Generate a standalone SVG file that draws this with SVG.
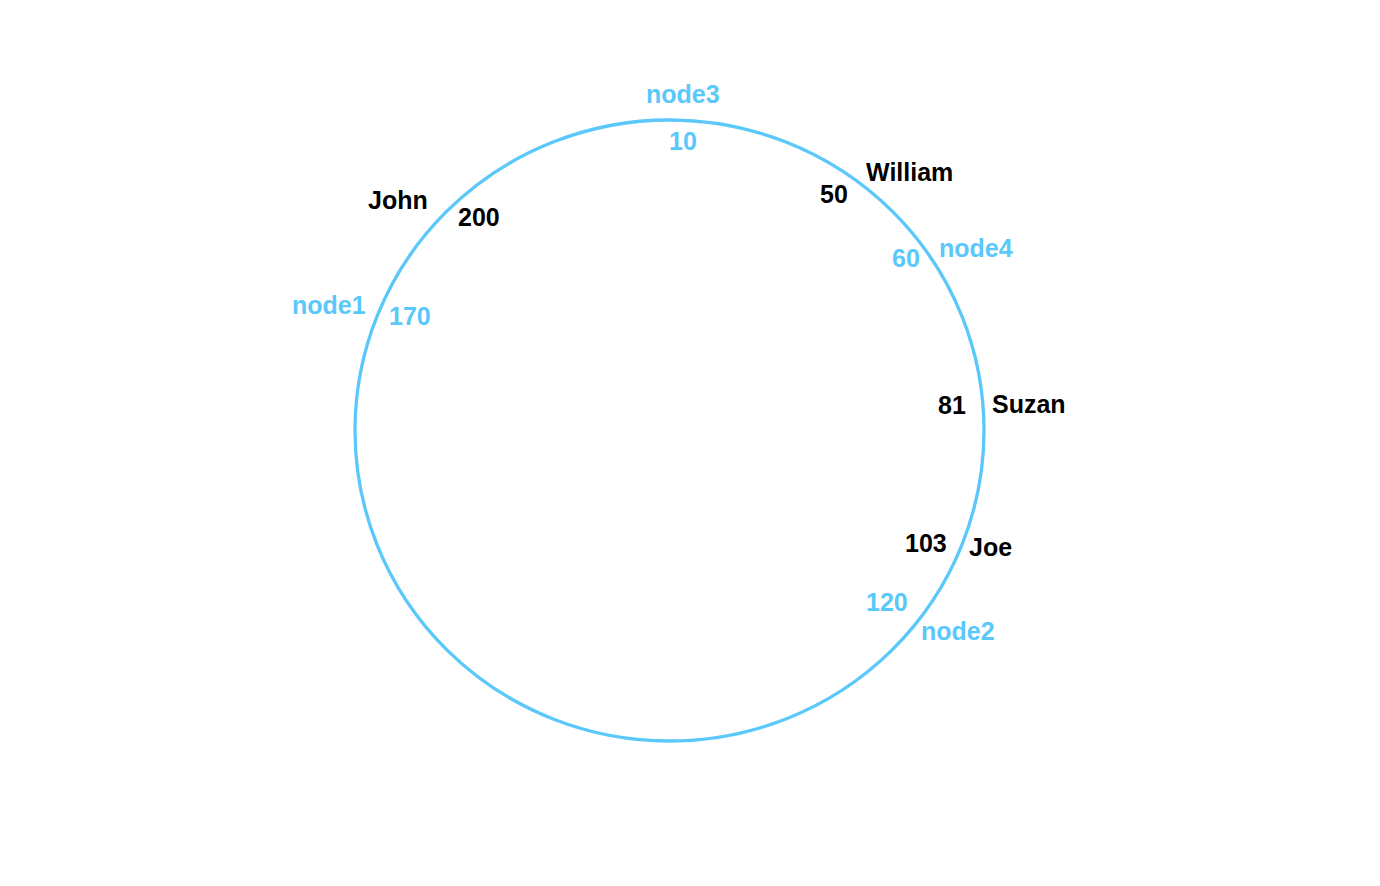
<svg xmlns="http://www.w3.org/2000/svg" width="1380" height="886" viewBox="0 0 1380 886">
<style>
text{font-family:"Liberation Sans",Arial,sans-serif;font-weight:bold;font-size:25px}
.b{fill:#5ac8fa}
.k{fill:#000}
.ring{fill:none;stroke:#5ac8fa;stroke-width:3.3}
</style>
<rect width="1380" height="886" fill="#fff"/>
<g id="connectors">
<ellipse class="ring" cx="669.5" cy="430.5" rx="314.5" ry="310.5"/>
</g>
<g id="node3"><text class="b" x="646" y="103">node3</text><text class="b" x="669" y="150">10</text></g>
<g id="node4"><text class="b" x="939" y="257">node4</text><text class="b" x="892" y="267">60</text></g>
<g id="node2"><text class="b" x="921" y="640">node2</text><text class="b" x="866" y="611">120</text></g>
<g id="node1"><text class="b" x="292" y="314">node1</text><text class="b" x="389" y="325">170</text></g>
<g id="john"><text class="k" x="368" y="209">John</text><text class="k" x="458" y="226">200</text></g>
<g id="william"><text class="k" x="866" y="181">William</text><text class="k" x="820" y="203">50</text></g>
<g id="suzan"><text class="k" x="992" y="413">Suzan</text><text class="k" x="938" y="414">81</text></g>
<g id="joe"><text class="k" x="969" y="556">Joe</text><text class="k" x="905" y="552">103</text></g>
</svg>
